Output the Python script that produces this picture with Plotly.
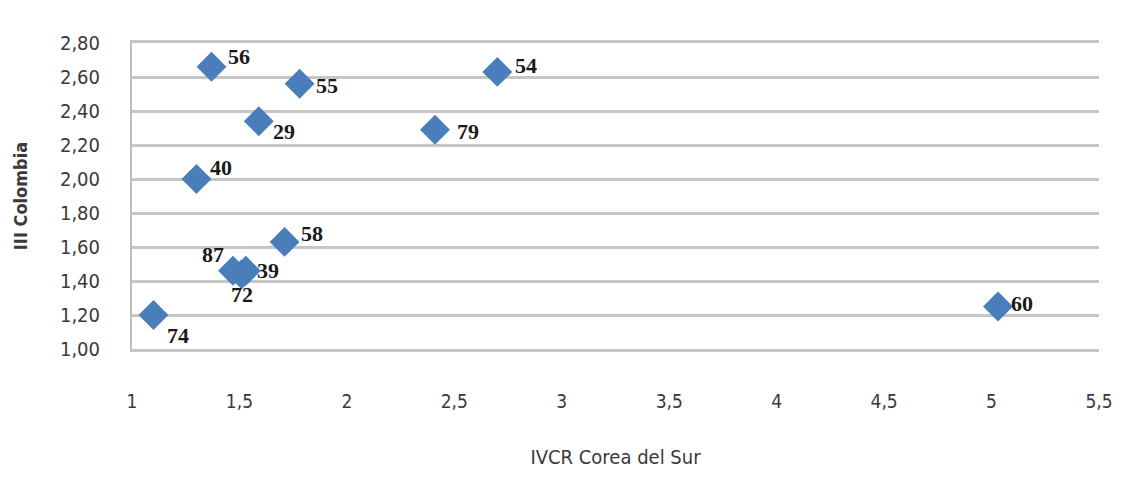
import plotly.graph_objects as go

# IVCR Corea del Sur (x) vs III Colombia (y), one point per product code
codes = ['56', '55', '54', '29', '79', '40', '58', '87', '39', '72', '74', '60']
ivcr_corea = [1.37, 1.78, 2.70, 1.59, 2.41, 1.30, 1.71, 1.47, 1.53, 1.51, 1.10, 5.03]
iii_colombia = [2.66, 2.56, 2.63, 2.34, 2.29, 2.00, 1.63, 1.46, 1.46, 1.44, 1.20, 1.25]

x_ticks = [1, 1.5, 2, 2.5, 3, 3.5, 4, 4.5, 5, 5.5]
y_ticks = [1.0, 1.2, 1.4, 1.6, 1.8, 2.0, 2.2, 2.4, 2.6, 2.8]

# label offsets from the marker centre, in pixels (style only)
label_dx = [27, 27, 29, 25, 33, 25, 27, -20, 22, 0, 25, 24]
label_dy = [10, -2, 6, -10, -2, 12, 8, 16, 0, -20, -20, 3]

fig = go.Figure()

fig.add_trace(go.Scatter(
    x=ivcr_corea,
    y=iii_colombia,
    mode='markers',
    marker=dict(symbol='diamond', size=23, color='#4a7ebb'),
    cliponaxis=False,
    showlegend=False
))

for code, x, y, dx, dy in zip(codes, ivcr_corea, iii_colombia, label_dx, label_dy):
    fig.add_annotation(
        x=x, y=y, text=code, showarrow=False,
        xshift=dx, yshift=dy,
        font=dict(family='Liberation Serif', size=22, color='#1a1a1a', weight='bold')
    )

# the page body adds an 8px margin, so the figure is sized 8px smaller
fig.update_layout(
    width=1130, height=489,
    paper_bgcolor='white', plot_bgcolor='white',
    separators=', ',
    margin=dict(l=124, r=39, t=35, b=148),
    font=dict(family='DejaVu Sans Condensed, Liberation Sans', color='#3a3a3a'),
    xaxis=dict(
        range=[1, 5.5], tickvals=x_ticks,
        showgrid=False, zeroline=False,
        # x line mirrored gives the 1,00 and 2,80 rules at bottom and top
        showline=True, mirror=True, linecolor='#c6c6c6', linewidth=3,
        automargin=False,
        ticklabelstandoff=33,
        tickfont=dict(size=19),
        title=dict(text='IVCR Corea del Sur', font=dict(size=20), standoff=40)
    ),
    yaxis=dict(
        range=[1.0, 2.8], tickvals=y_ticks, tickformat='.2f',
        showgrid=True, gridcolor='#c6c6c6', gridwidth=3, zeroline=False,
        showline=True, linecolor='#bdbdbd', linewidth=2,
        automargin=False,
        ticklabelstandoff=26,
        tickfont=dict(size=20),
        title=dict(text='<b>III Colombia</b>', font=dict(size=18), standoff=28)
    )
)

fig.write_html("out.html")
